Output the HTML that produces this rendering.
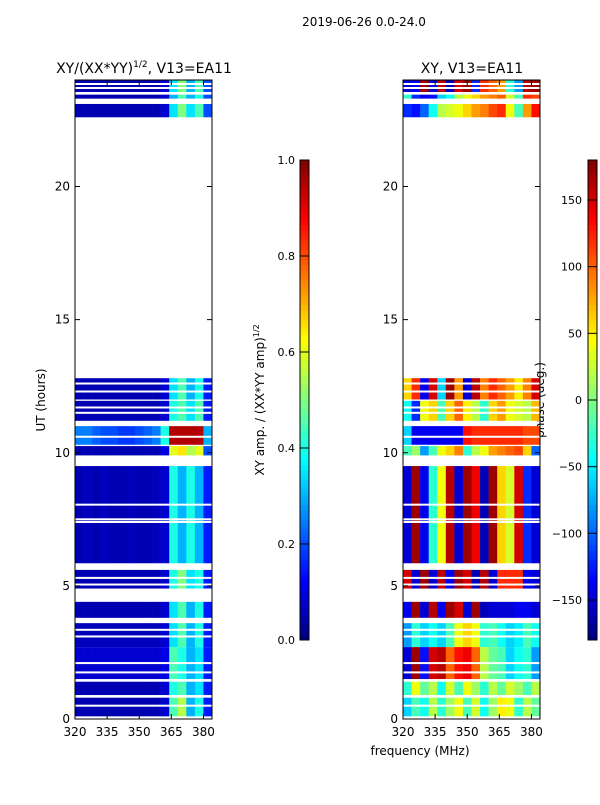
<!DOCTYPE html>
<html><head><meta charset="utf-8"><style>
body{margin:0;background:#fff}
svg{font-family:"DejaVu Sans","Liberation Sans",sans-serif}
</style></head><body>
<svg id="fig" width="600" height="800" viewBox="0 0 600 800" xmlns="http://www.w3.org/2000/svg">
<rect width="600" height="800" fill="#fff"/>
<text x="364" y="26" font-size="12" text-anchor="middle">2019-06-26 0.0-24.0</text>
<text x="144" y="73" font-size="14" text-anchor="middle">XY/(XX*YY)<tspan font-size="9" dy="-6">1/2</tspan><tspan dy="6">, V13=EA11</tspan></text>
<text x="472" y="73" font-size="14" text-anchor="middle">XY, V13=EA11</text>
<text x="45" y="400" font-size="12" text-anchor="middle" transform="rotate(-90 45 400)">UT (hours)</text>
<text x="420" y="755" font-size="12" text-anchor="middle">frequency (MHz)</text>
<text x="264" y="400" font-size="12" text-anchor="middle" transform="rotate(-90 264 400)">XY amp. / (XX*YY amp)<tspan font-size="8" dy="-5">1/2</tspan></text>
<text x="545" y="400" font-size="12" text-anchor="middle" transform="rotate(-90 545 400)" dy="-1">phase (deg.)</text>
<g id="left"></g><g id="right"></g><g id="cbars"></g>
</svg>
<script>
// Time bands (hours) where data exists
const bandStart=[23.55,23.3,22.6,12.0,11.2,10.3,9.9,5.85,4.9,3.8,2.7,1.5,0.9,0.1];
const bandEnd  =[24.0,23.45,23.1,12.8,11.95,11.0,10.25,9.5,5.6,4.4,3.6,2.7,1.4,0.8];
// Frequency channels (MHz, left edges; width 4)
const freqs=[320,324,328,332,336,340,344,348,352,356,360,364,368,372,376,380];
// Amplitude per band per channel
const ampRows=[
[0.05,0.05,0.05,0.05,0.05,0.05,0.05,0.05,0.05,0.05,0.08,0.35,0.5,0.3,0.45,0.2],
[0.05,0.05,0.05,0.05,0.05,0.05,0.05,0.05,0.05,0.05,0.08,0.3,0.45,0.3,0.4,0.2],
[0.05,0.05,0.05,0.05,0.05,0.05,0.05,0.05,0.05,0.05,0.08,0.35,0.5,0.35,0.45,0.2],
[0.05,0.05,0.05,0.05,0.05,0.05,0.05,0.05,0.05,0.05,0.08,0.35,0.45,0.3,0.4,0.15],
[0.05,0.05,0.05,0.05,0.05,0.05,0.05,0.05,0.05,0.05,0.08,0.4,0.45,0.35,0.45,0.15],
[0.25,0.25,0.22,0.2,0.2,0.18,0.18,0.2,0.22,0.25,0.4,0.95,0.95,0.95,0.95,0.3],
[0.05,0.05,0.05,0.05,0.05,0.05,0.05,0.05,0.05,0.05,0.1,0.6,0.65,0.55,0.6,0.2],
[0.05,0.06,0.05,0.06,0.05,0.05,0.06,0.05,0.05,0.06,0.08,0.4,0.3,0.4,0.3,0.15],
[0.05,0.05,0.05,0.05,0.05,0.05,0.05,0.05,0.05,0.05,0.08,0.4,0.5,0.35,0.4,0.15],
[0.05,0.05,0.05,0.05,0.05,0.05,0.05,0.05,0.05,0.05,0.08,0.35,0.45,0.3,0.4,0.15],
[0.06,0.06,0.06,0.06,0.06,0.06,0.06,0.06,0.06,0.06,0.08,0.35,0.45,0.3,0.4,0.15],
[0.08,0.08,0.08,0.08,0.08,0.08,0.08,0.08,0.08,0.08,0.1,0.45,0.4,0.3,0.35,0.15],
[0.05,0.05,0.05,0.05,0.05,0.05,0.05,0.05,0.05,0.05,0.08,0.4,0.45,0.3,0.35,0.15],
[0.05,0.05,0.05,0.05,0.05,0.05,0.05,0.05,0.05,0.05,0.08,0.45,0.55,0.3,0.4,0.15]];
// Phase (deg) per band per channel
const phaseRows=[
[-150,-140,170,-150,160,-160,150,170,-120,120,100,80,-30,-80,160,170],
[-30,-120,-140,-130,-60,-40,20,40,60,80,90,100,30,-20,120,110],
[-120,-130,-100,-40,20,30,40,60,80,90,110,120,40,-20,80,130],
[60,120,-140,150,-60,170,80,-150,160,90,120,100,80,50,90,150],
[-40,-120,40,60,-20,60,100,50,20,-30,60,80,40,30,20,70],
[-60,-140,-140,-140,-140,-140,-140,130,120,120,120,120,120,120,110,110],
[-20,10,-80,-20,40,60,90,-30,20,40,80,90,100,110,60,-100],
[-150,170,-140,-30,40,160,-150,170,140,-160,170,60,30,150,-120,-150],
[150,-150,170,-150,160,-140,170,150,-160,160,-150,120,120,120,-140,-150],
[-140,170,-150,160,-140,170,150,-150,170,-160,-150,-150,-150,-140,-140,-150],
[-80,-30,-60,-40,-60,-20,40,60,40,-30,-20,-40,-60,-50,-20,-40],
[-150,170,-130,150,160,100,130,140,100,20,-10,-20,-60,-40,-30,-80],
[-30,40,-10,20,-40,30,-20,40,10,-30,20,-10,30,10,-20,20],
[-60,-20,-40,20,-30,10,40,-20,30,-40,10,50,40,-30,20,-10]];
// Thin white data gaps within bands (hours)
const gaps=[23.7,23.85,12.3,12.6,11.5,11.7,10.6,8.05,7.5,7.4,5.3,5.05,3.1,3.35,2.1,1.75,0.5];
const yTicks=[0,5,10,15,20];
const xTicks=[320,335,350,365,380];
const ampTicks=[0.0,0.2,0.4,0.6,0.8,1.0];
const phaseTicks=[-150,-100,-50,0,50,100,150];

const NS="http://www.w3.org/2000/svg";
const yScale=h=>719-(h/24)*639;
const panels=[{g:'left',x0:75,rows:ampRows,norm:v=>v},{g:'right',x0:403,rows:phaseRows,norm:v=>(v+180)/360}];
const W=137;
function xScale(x0,f){return x0+(f-320)/64*W;}
function jet(t){t=Math.max(0,Math.min(1,t));
 const r=Math.min(1,Math.max(0,1.5-Math.abs(4*t-3)));
 const g=Math.min(1,Math.max(0,1.5-Math.abs(4*t-2)));
 const b=Math.min(1,Math.max(0,1.5-Math.abs(4*t-1)));
 return `rgb(${Math.round(r*255)},${Math.round(g*255)},${Math.round(b*255)})`;}
function el(tag,attrs,parent){const e=document.createElementNS(NS,tag);for(const k in attrs)e.setAttribute(k,attrs[k]);parent.appendChild(e);return e;}
panels.forEach(p=>{
 const g=document.getElementById(p.g);
 bandStart.forEach((s,i)=>{
  freqs.forEach((f,j)=>{
   const r=el('rect',{x:xScale(p.x0,f),y:yScale(bandEnd[i]),width:W/16+0.3,height:yScale(s)-yScale(bandEnd[i]),fill:jet(p.norm(p.rows[i][j]))},g);
   
   
  });
 });
 gaps.forEach(h=>{
  const r=el('rect',{x:p.x0,y:yScale(h)-1,width:W,height:2,fill:'#fff'},g);
  
  
 });
 const fr=el('rect',{x:p.x0,y:80,width:W,height:639,fill:'none',stroke:'#000','stroke-width':1},g);
 
 
 yTicks.forEach(t=>{
  const y=yScale(t);
  el('line',{x1:p.x0,x2:p.x0+5,y1:y,y2:y,stroke:'#000'},g);
  el('line',{x1:p.x0+W-5,x2:p.x0+W,y1:y,y2:y,stroke:'#000'},g);
  const tx=el('text',{x:p.x0-5,y:y+4,'font-size':12,'text-anchor':'end'},g);tx.textContent=t;
  
  
 });
 xTicks.forEach(t=>{
  const x=xScale(p.x0,t);
  el('line',{x1:x,x2:x,y1:719,y2:714,stroke:'#000'},g);
  el('line',{x1:x,x2:x,y1:80,y2:85,stroke:'#000'},g);
  const tx=el('text',{x:x,y:736,'font-size':12,'text-anchor':'middle'},g);tx.textContent=t;
  
  
 });
});
// colorbars
const cb=document.getElementById('cbars');
[{x:300,ticks:ampTicks,norm:v=>v,fmt:v=>v.toFixed(1),lx:295,anchor:'end'},{x:588,ticks:phaseTicks,norm:v=>(v+180)/360,fmt:v=>String(v).replace('-','\u2212'),lx:582,anchor:'end'}].forEach(c=>{
 for(let k=0;k<96;k++){
  const r=el('rect',{x:c.x,y:640-(k+1)*5,width:9,height:5.3,fill:jet((k+0.5)/96)},cb);
  
  
 }
 el('rect',{x:c.x,y:160,width:9,height:480,fill:'none',stroke:'#000'},cb);
 c.ticks.forEach(t=>{
  const y=640-c.norm(t)*480;
  el('line',{x1:c.x,x2:c.x+9,y1:y,y2:y,stroke:'#000'},cb);
  const tx=el('text',{x:c.lx,y:y+4,'font-size':11,'text-anchor':c.anchor},cb);tx.textContent=c.fmt(t);
  
  
 });
});
</script>
</body></html>
